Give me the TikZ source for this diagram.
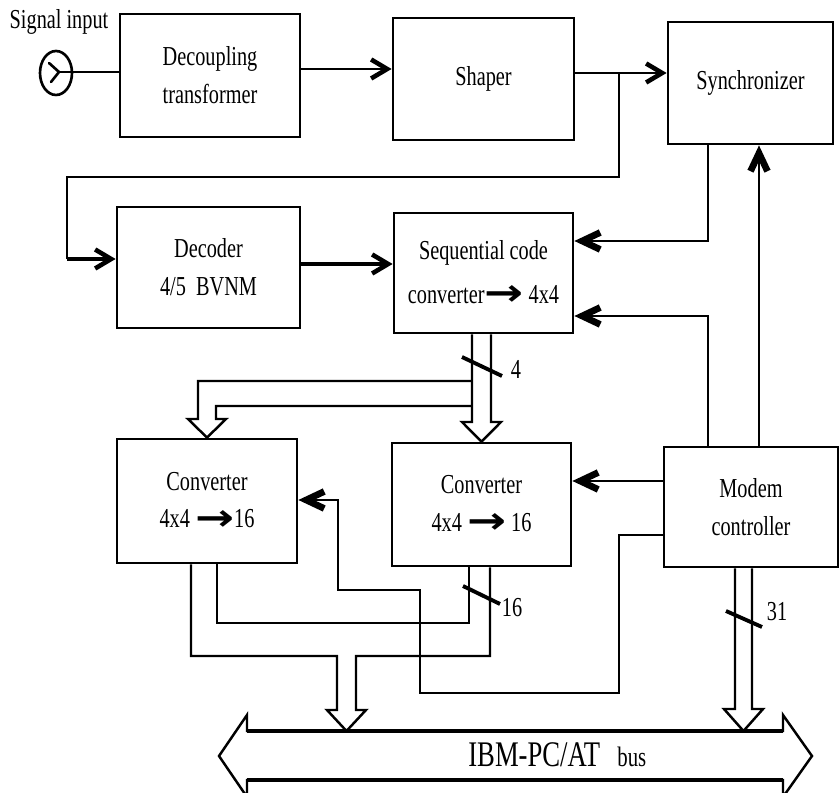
\documentclass[tikz,border=0pt]{standalone}
\usepackage{fontspec}
\setmainfont{Liberation Serif}[FakeStretch=0.74]
\newfontfamily\arrfont{DejaVu Sans}
\usetikzlibrary{arrows.meta,calc,shapes.geometric}
\newcommand{\bfont}{\fontsize{15.6}{21.5}\selectfont}
\newcommand{\barr}{\raisebox{-1.2pt}{\scalebox{1.7}[1.35]{\arrfont\bfseries →}}}
\begin{document}
\begin{tikzpicture}[x=0.02cm,y=-0.02cm,
  blk/.style={draw, line width=1.6pt, align=center, font=\bfont, inner sep=0pt},
  ln/.style={line width=1.5pt},
  thk/.style={line width=2.8pt},
  barb/.style={-{Straight Barb[length=0.32cm,width=0.38cm,line width=2.6pt 0]}},
  heavy/.style={-{Straight Barb[length=0.36cm,width=0.34cm,line width=3.8pt 0]}},
  bus/.style={line width=1.4pt, line join=miter},
  slash/.style={line width=2.2pt},
  lbl/.style={font=\bfont, inner sep=0pt}]
\useasboundingbox (0,0) rectangle (840,793);

% blocks
\node[blk, minimum width=3.6cm, minimum height=2.46cm] (dec) at (210,75.5) {Decoupling\\transformer};
\node[blk, minimum width=3.62cm, minimum height=2.44cm] (shp) at (483.5,79) {Shaper};
\node[blk, minimum width=3.3cm, minimum height=2.44cm] (syn) at (750.5,83) {Synchronizer};
\node[blk, minimum width=3.66cm, minimum height=2.42cm] (dcd) at (208.5,267.5) {Decoder\\4/5~~BVNM};
\node[blk, minimum width=3.58cm, minimum height=2.4cm] (seq) at (483.5,273) {Sequential code\\[4pt]converter\barr\ 4x4};
\node[blk, minimum width=3.6cm, minimum height=2.48cm] (cv1) at (207,501) {Converter\\4x4 \barr16};
\node[blk, minimum width=3.58cm, minimum height=2.46cm] (cv2) at (481.5,504.5) {Converter\\4x4 \barr\ 16};
\node[blk, minimum width=3.48cm, minimum height=2.4cm] (mdm) at (751,507) {Modem\\controller};

% signal input
\node[lbl] (sig) at (59,22) {Signal input};
\node[draw, ln, ellipse, minimum width=0.64cm, minimum height=0.88cm, inner sep=0pt] (ant) at (56,73) {};
\coordinate (antj) at (59,72);
\draw[ln, line cap=round] (49,63) -- (antj) -- (51,82);
\draw[ln] (antj) -- (dec.west |- antj);

% top row
\draw[ln, barb] (dec.east |- 0,69) -- (shp.west |- 0,69);
\coordinate (j1) at (619,73);
\draw[ln, barb] (shp.east |- j1) -- (syn.west |- j1);
\draw[ln] (j1) |- (67,177) -- (67,259);
\draw[thk, barb] (67,259) -- (dcd.west |- 0,259);
\draw[thk, barb] (dcd.east |- 0,264) -- (seq.west |- 0,264);

% synchronizer / modem links
\draw[ln, heavy] (syn.south -| 708,0) |- (seq.east |- 0,241);
\draw[ln, heavy] (mdm.north -| 708,0) |- (seq.east |- 0,316);
\draw[ln, heavy] (mdm.north -| 759,0) -- (syn.south -| 759,0);
\draw[ln, heavy] (mdm.west |- 0,481) -- (cv2.east |- 0,481);
\draw[ln, heavy] (mdm.west |- 0,535) -| (619,693) -| (420,590) -| (338,500) -- (cv1.east |- 0,500);

% 4-bit bus from sequential code converter
\draw[bus] (seq.south -| 472,0) -- (472,422) -- (462,422) -- (cv2.north) -- (501,422) -- (491,422) -- (seq.south -| 491,0);
\draw[bus] (472,381) -- (198,381) -- (198,419) -- (188,419) -- (cv1.north) -- (226,419) -- (216,419) -- (216,406) -- (472,406);
\draw[slash] (462,357) -- (502,376);
\node[lbl] (l4) at (516,369) {4};

% 16-bit buses to system bus
\draw[bus] (cv2.south -| 469,0) |- (217,623) -- (cv1.south -| 217,0);
\draw[bus] (cv1.south -| 191,0) |- (337,656) -- (337,710) -- (327,710) -- (346.5,731) -- (366,710) -- (356,710) -- (356,656) -| (cv2.south -| 490,0);
\draw[slash] (463,586) -- (500,604);
\node[lbl] (l16) at (512,608) {16};

% 31-bit bus from modem controller
\draw[bus] (mdm.south -| 735,0) -- (735,709) -- (724,709) -- (743.5,731) -- (763,709) -- (752,709) -- (mdm.south -| 752,0);
\draw[slash] (726,611) -- (762,627);
\node[lbl] (l31) at (777,612) {31};

% IBM-PC/AT bus
\draw[line width=1.4pt, line join=miter] (247,731) -- (783,731) -- (783,715) -- (812,756) -- (783,797) -- (783,780) -- (247,780) -- (247,797) -- (219,756) -- (247,715) -- cycle;
\draw[line width=2.6pt] (247,731) -- (783,731);
\draw[line width=2.6pt] (247,780) -- (783,780);
\node[anchor=base west, inner sep=0pt] (ibm) at (468,767) {\fontsize{20.5}{22}\selectfont IBM-PC/AT};
\node[anchor=base west, inner sep=0pt] (busw) at (617,767) {\fontsize{16}{18}\selectfont bus};
\end{tikzpicture}
\end{document}
